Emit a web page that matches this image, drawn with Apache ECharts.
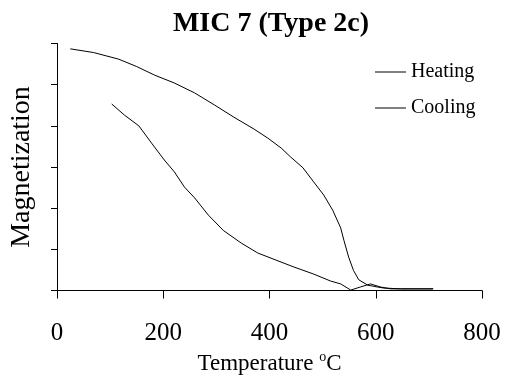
<!DOCTYPE html>
<html><head><meta charset="utf-8">
<script src="https://cdn.jsdelivr.net/npm/echarts@6/dist/echarts.min.js"></script>
<style>html,body{margin:0;padding:0;background:#fff}#c{width:507px;height:387px}</style>
</head><body><div id="c"></div>
<script>
const titleText = 'MIC 7 (Type 2c)';
const xTicks = [0, 200, 400, 600, 800];
const heatingT = [25, 69, 116, 150, 184, 221, 259, 296, 333, 371, 397, 422, 440, 463, 483, 502, 519, 534, 540, 549, 558, 568, 585, 603, 615, 646, 708];
const heatingM = [5.87, 5.78, 5.62, 5.44, 5.23, 5.04, 4.80, 4.51, 4.21, 3.92, 3.70, 3.46, 3.24, 2.98, 2.64, 2.32, 1.95, 1.52, 1.22, 0.81, 0.49, 0.26, 0.13, 0.085, 0.06, 0.04, 0.04];
const coolingT = [103, 127, 154, 178, 202, 221, 240, 259, 285, 313, 347, 378, 416, 446, 483, 515, 534, 553, 571, 590, 609, 628, 646, 708];
const coolingM = [4.53, 4.26, 4.0, 3.58, 3.17, 2.88, 2.51, 2.25, 1.83, 1.46, 1.15, 0.91, 0.72, 0.57, 0.40, 0.23, 0.16, 0.01, 0.085, 0.16, 0.085, 0.04, 0.04, 0.04];

const font = '"Liberation Serif", "Times New Roman", serif';
const chart = echarts.init(document.getElementById('c'), null, {renderer: 'canvas'});
chart.setOption({
  animation: false,
  backgroundColor: '#fff',
  title: {
    text: titleText, left: 266, textAlign: 'center', top: 5,
    textStyle: {fontFamily: font, fontWeight: 'bold', fontSize: 28, color: '#000'}
  },
  legend: {
    orient: 'vertical', left: 370, top: 56, itemWidth: 31, itemHeight: 1, itemGap: 14,
    icon: 'rect',
    textStyle: {fontFamily: font, fontSize: 20, color: '#000', lineHeight: 22},
    itemStyle: {color: '#000', borderWidth: 0},
    data: ['Heating', 'Cooling']
  },
  grid: {left: 55, right: 25, top: 43.5, bottom: 96.5, containLabel: false},
  xAxis: {
    type: 'value', min: 0, max: 800, interval: 200,
    name: '{n|Temperature }{s|o}{n|C}', nameLocation: 'middle', nameGap: 50,
    nameTextStyle: {
      rich: {
        n: {fontFamily: font, fontSize: 23, color: '#000'},
        s: {fontFamily: font, fontSize: 14, color: '#000', padding: [0,0,14,0]}
      }
    },
    axisLine: {lineStyle: {color: '#000', width: 1}},
    axisTick: {show: true, inside: false, length: 8, lineStyle: {color: '#000'}},
    axisLabel: {fontFamily: font, fontSize: 25, color: '#000', margin: 30},
    splitLine: {show: false}
  },
  yAxis: {
    type: 'value', min: 0, max: 6, interval: 1,
    name: 'Magnetization', nameLocation: 'middle', nameGap: 21, nameRotate: 90,
    nameTextStyle: {fontFamily: font, fontSize: 28, color: '#000'},
    axisLine: {show: true, lineStyle: {color: '#000', width: 1}},
    axisTick: {show: true, length: 6, lineStyle: {color: '#000'}},
    axisLabel: {show: false},
    splitLine: {show: false}
  },
  series: [
    {name: 'Heating', type: 'line', symbol: 'none', smooth: false,
     lineStyle: {color: '#000', width: 1}, itemStyle: {color: '#000'},
     data: heatingT.map((t, i) => [t, heatingM[i]])},
    {name: 'Cooling', type: 'line', symbol: 'none', smooth: false,
     lineStyle: {color: '#000', width: 1}, itemStyle: {color: '#000'},
     data: coolingT.map((t, i) => [t, coolingM[i]])}
  ]
});
</script></body></html>
